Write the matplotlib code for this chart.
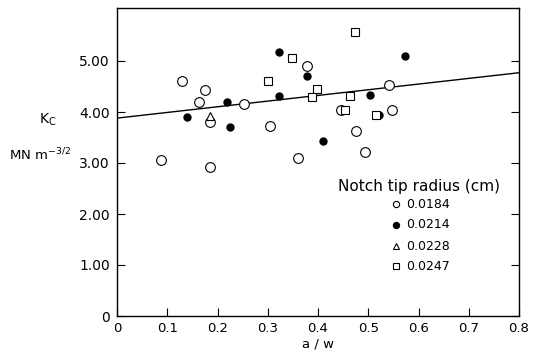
import matplotlib
matplotlib.use("Agg")
import matplotlib.pyplot as plt
import numpy as np

# Data
x_0184 = [0.129, 0.175, 0.164, 0.253, 0.185, 0.304, 0.088, 0.360, 0.185, 0.379, 0.542, 0.445, 0.548, 0.476, 0.494]
y_0184 = [4.61, 4.43, 4.20, 4.15, 3.81, 3.72, 3.05, 3.10, 2.92, 4.91, 4.52, 4.03, 4.04, 3.63, 3.22]
x_0214 = [0.323, 0.379, 0.323, 0.219, 0.140, 0.224, 0.409, 0.574, 0.504, 0.522]
y_0214 = [5.18, 4.71, 4.31, 4.20, 3.91, 3.71, 3.43, 5.10, 4.33, 3.95]
x_0228 = [0.185]
y_0228 = [3.93]
x_0247 = [0.349, 0.301, 0.399, 0.388, 0.474, 0.463, 0.454, 0.515]
y_0247 = [5.05, 4.61, 4.46, 4.30, 5.56, 4.31, 4.03, 3.95]
fit_x = [0.0, 0.8]
fit_y = [3.88, 4.77]

xticks = [0, 0.1, 0.2, 0.3, 0.4, 0.5, 0.6, 0.7, 0.8]
xticklabels = ["0", "0.1", "0.2", "0.3", "0.4", "0.5", "0.6", "0.7", "0.8"]
yticks = [0, 1, 2, 3, 4, 5]
yticklabels = ["0", "1.00", "2.00", "3.00", "4.00", "5.00"]
legend_labels = ["0.0184", "0.0214", "0.0228", "0.0247"]

plt.rcParams['font.family'] = ['DejaVu Sans']
fig = plt.figure(figsize=(5.37, 3.57), dpi=100)
ax = fig.add_axes([117/537, 1-316/357, (519-117)/537, (316-8)/357])
ax.set_xlim(0, 0.8)
ax.set_ylim(0, 308/51)

ax.plot(fit_x, fit_y, color='black', lw=1.0, zorder=2)
ax.plot(x_0184, y_0184, 'o', ms=7, mfc='white', mec='black', mew=0.8, ls='none', zorder=3)
ax.plot(x_0214, y_0214, 'o', ms=5, mfc='black', mec='black', ls='none', zorder=3)
ax.plot(x_0228, y_0228, '^', ms=5.5, mfc='white', mec='black', mew=0.8, ls='none', zorder=3)
ax.plot(x_0247, y_0247, 's', ms=5.5, mfc='white', mec='black', mew=0.8, ls='none', zorder=3)

ax.set_xticks(xticks)
ax.set_xticklabels(xticklabels, fontsize=9.5)
ax.set_yticks(yticks)
ax.set_yticklabels(yticklabels, fontsize=10)
ax.tick_params(axis='both', direction='in', length=6, width=0.8, color='black')
ax.tick_params(axis='y', right=True, left=True, labelright=False)
ax.tick_params(axis='x', pad=4)
ax.tick_params(axis='y', pad=5)
for s in ax.spines.values():
    s.set_linewidth(1.0)
ax.set_xlabel("a / w", fontsize=9.5, labelpad=2)

fig.text(48/537, 1-120/357, r"K$_{\mathregular{C}}$", fontsize=10, ha='center', va='center')
fig.text(40/537, 1-155/357, r"MN m$^{\mathregular{-3/2}}$", fontsize=9.5, ha='center', va='center')

# Legend
fig.text(419/537, 1-187/357, "Notch tip radius (cm)", fontsize=11, ha='center', va='center')
leg_y = [204, 225, 246, 266]
markers = [('o', 'white', 4.5), ('o', 'black', 4.5), ('^', 'white', 4.5), ('s', 'white', 4.5)]
for (m, fc, ms), py, lab in zip(markers, leg_y, legend_labels):
    fig.lines.append(plt.Line2D([396/537], [1-py/357], marker=m, ms=ms, mfc=fc, mec='black',
                                mew=0.8, ls='none', transform=fig.transFigure))
    fig.text(406/537, 1-py/357, lab, fontsize=9, ha='left', va='center')

fig.savefig("out.png", dpi=100)
